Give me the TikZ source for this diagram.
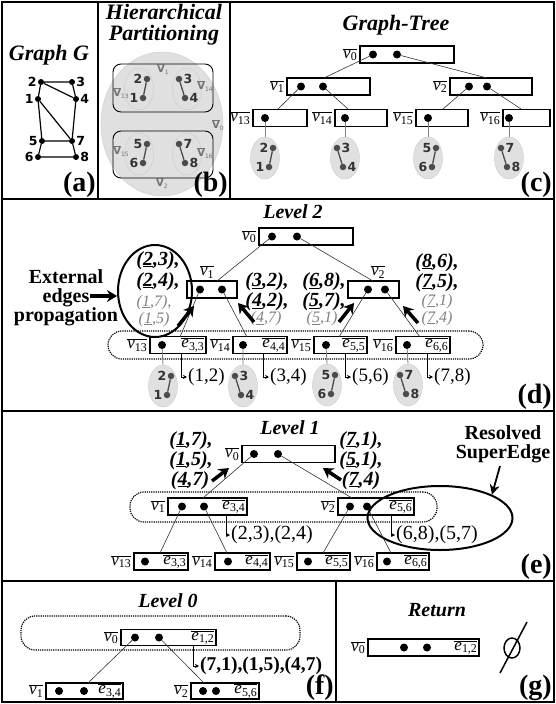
\documentclass[tikz,border=0pt]{standalone}
\usepackage{fontspec}
\setmainfont{Liberation Serif}
\newfontfamily\numfont{DejaVu Sans}
\usetikzlibrary{calc}
\usetikzlibrary{positioning}
\usetikzlibrary{shapes.geometric}
\usetikzlibrary{arrows.meta}
\definecolor{leafgray}{gray}{0.88}
\colorlet{stemgray}{black!50}
\colorlet{pairgray}{black!50}
\newcommand{\vlab}[1]{$\overline{\mbox{\itshape v\textsubscript{\upshape #1}}}$}
\newcommand{\elab}[1]{$\overline{\mbox{\itshape e\textsubscript{\upshape #1}}}$}
\newcommand{\Vlab}[1]{$\overline{\mbox{\numfont\bfseries V}}$\raisebox{-2pt}{\numfont\fontsize{6}{6}\selectfont #1}}
\newcommand{\uln}[1]{\underline{#1}}
\tikzset{
  panel/.style={line width=1.6pt},
  ttl/.style={font=\fontsize{20}{20}\selectfont\bfseries\itshape, inner sep=0pt},
  topttl/.style={ttl, font=\fontsize{22}{21}\selectfont\bfseries\itshape},
  paneltag/.style={font=\fontsize{28}{28}\selectfont\bfseries, anchor=south east, inner sep=1pt},
  vbox/.style={draw, line width=1.2pt, minimum height=17pt, inner sep=0pt},
  dot/.style={circle, fill=black, inner sep=0pt, minimum size=8pt},
  gdot/.style={circle, fill=black!70, inner sep=0pt, minimum size=6.5pt},
  leafell/.style={ellipse, fill=leafgray, draw=black!20, inner sep=0pt, minimum width=29pt, minimum height=42pt},
  num/.style={font=\numfont\bfseries\fontsize{12.5}{12.5}\selectfont, inner sep=1pt, text=black!80},
  vname/.style={font=\fontsize{17}{17}\selectfont, inner sep=1pt},
  ename/.style={font=\fontsize{17}{17}\selectfont, inner sep=2pt, anchor=east},
  vgray/.style={font=\fontsize{10}{10}\selectfont, text=black!55, inner sep=0pt},
  treeline/.style={line width=0.6pt, black!80},
  stem/.style={line width=0.8pt, stemgray},
  stadium/.style={draw, densely dotted, line width=1.2pt, rounded corners=14pt, inner sep=0pt},
  bigarrow/.style={line width=3.5pt, -{Stealth[length=10pt, width=12pt]}},
  elbow/.style={line width=0.8pt, -{Stealth[length=4pt, width=4pt]}},
  pair/.style={font=\fontsize{20}{20}\selectfont\bfseries\itshape, inner sep=0pt, text height=13pt, text depth=3pt},
  gpair/.style={font=\fontsize{16}{16}\selectfont\itshape, inner sep=0pt, text=pairgray, text height=11pt, text depth=3pt},
  pairtxt/.style={font=\fontsize{19}{19}\selectfont, inner sep=1pt, anchor=west},
  ring/.style={ellipse, draw, line width=2pt, inner sep=0pt},
  note/.style={font=\fontsize{20}{19}\selectfont\bfseries, align=center, inner sep=0pt}
}
\newcommand{\leafleft}[5]{
  \node[leafell] (#1) at (#2,#3) {};
  \node[gdot] (#1u) at ($(#1)+(8,-10)$) {};
  \node[gdot] (#1l) at ($(#1)+(4,9)$) {};
  \draw[line width=1.3pt, black!70] (#1u) -- (#1l);
  \node[num, left=0pt of #1u] {#4};
  \node[num, left=0pt of #1l] {#5};
}
\newcommand{\leafright}[5]{
  \node[leafell] (#1) at (#2,#3) {};
  \node[gdot] (#1u) at ($(#1)+(-8,-10)$) {};
  \node[gdot] (#1l) at ($(#1)+(-2,9)$) {};
  \draw[line width=1.3pt, black!70] (#1u) -- (#1l);
  \node[num, right=0pt of #1u] {#4};
  \node[num, right=0pt of #1l] {#5};
}
\begin{document}
\begin{tikzpicture}[x=1pt, y=-1pt]
  \useasboundingbox (0,0) rectangle (556,704);

  \draw[panel] (2,2) rectangle (554,702);
  \draw[panel] (98,2) -- (98,199) (230,2) -- (230,199);
  \draw[panel] (2,199) -- (554,199) (2,411) -- (554,411) (2,581) -- (554,581);
  \draw[panel] (336,581) -- (336,702);

  % (a) graph G
  \node[topttl] (ta) at (49,55) {Graph G};
  \foreach \n/\x/\y in {1/38/99, 2/41/82, 3/72/82, 4/76/99, 5/42/141, 6/38/157, 7/72/141, 8/76/157}{
    \node[dot, minimum size=6pt] (g\n) at (\x,\y) {};
  }
  \foreach \n in {1,2,5,6}{
    \node[num, text=black, left=0pt of g\n] {\n};
  }
  \foreach \n in {3,4,7,8}{
    \node[num, text=black, right=0pt of g\n] {\n};
  }
  \draw[line width=1.2pt] (g1) -- (g2) (g2) -- (g3) (g3) -- (g4) (g2) -- (g4)
    (g1) -- (g5) (g1) -- (g7) (g4) -- (g7) (g5) -- (g7) (g5) -- (g6) (g6) -- (g8) (g7) -- (g8);
  \node[paneltag] (taga) at (97,199) {(a)};

  % (b) partitioning
  \node[topttl, align=center] (tb) at (164,25) {Hierarchical\\Partitioning};
  \node[ellipse, fill=leafgray, draw=black!20, inner sep=0pt, minimum width=122pt, minimum height=144pt] (B0) at (162,124) {};
  \node[draw, line width=0.9pt, rounded corners=8pt, minimum width=100pt, minimum height=48pt] (B1) at (163,88) {};
  \node[draw, line width=0.9pt, rounded corners=8pt, minimum width=100pt, minimum height=47pt] (B2) at (163,154.5) {};
  \leafleft{b13}{139}{89}{2}{1}
  \leafright{b14}{187}{89}{3}{4}
  \leafleft{b15}{139}{154}{5}{6}
  \leafright{b16}{187}{154}{7}{8}
  \foreach \nm/\x/\y/\s in {V1/163/69/1, V13/121/93/13, V14/205/86/14, V0/218/125/0, V15/121/151/15, V16/205/153/16, V2/162/183/2}{
    \node[vgray] (\nm) at (\x,\y) {\Vlab{\s}};
  }
  \node[paneltag] (tagb) at (229,199) {(b)};

  % (c) graph-tree
  \node[topttl] (tc) at (396,25) {Graph-Tree};
  \foreach \nm/\x/\y/\w in {c0/407/54.5/94, c1/328.5/86.5/83, c2/491/86.5/82, c13/280/118/54, c14/361/118/52, c15/442/118/52, c16/526.5/118/47}{
    \node[vbox, minimum width=\w pt] (\nm) at (\x,\y) {};
  }
  \foreach \nm/\x/\y in {c0a/373/54.5, c0b/397/54.5, c1a/301/86.5, c1b/323/86.5, c2a/469/86.5, c2b/487/86.5, c13a/265/118, c14a/345/118, c15a/428/118, c16a/509/118}{
    \node[dot] (\nm) at (\x,\y) {};
  }
  \foreach \nm/\i in {c0/0, c1/1, c2/2, c13/13, c14/14, c15/15, c16/16}{
    \node[vname, left=1pt of \nm] {\vlab{\i}};
  }
  \coordinate (c1t) at (324,78);
  \coordinate (c2t) at (487,78);
  \coordinate (c13t) at (278,109);
  \coordinate (c14t) at (348,109);
  \coordinate (c15t) at (443,109);
  \coordinate (c16t) at (521,109);
  \draw[treeline] (c0a) -- (c1t) (c0b) -- (c2t) (c1a) -- (c13t) (c1b) -- (c14t) (c2a) -- (c15t) (c2b) -- (c16t);
  \leafleft{l13}{265}{158}{2}{1}
  \leafright{l14}{345}{158}{3}{4}
  \leafleft{l15}{428}{158}{5}{6}
  \leafright{l16}{509}{158}{7}{8}
  \draw[stem] (c13a) -- (l13.north) (c14a) -- (l14.north) (c15a) -- (l15.north) (c16a) -- (l16.north);
  \node[paneltag] (tagc) at (553,199) {(c)};

  % (d) level 2
  \node[ttl] (td) at (293,212) {Level 2};
  \node[stadium, minimum width=375pt, minimum height=28pt] (row2) at (295.5,345) {};
  \foreach \nm/\x/\y/\w in {d0/306/236.5/94, d1/212/289.5/50, d2/373.5/289.5/51, d13/178/345/56, d14/260/345/54, d15/340.5/345/53, d16/423/345/54}{
    \node[vbox, minimum width=\w pt, fill=white] (\nm) at (\x,\y) {};
  }
  \foreach \nm/\x/\y in {d0a/272/236.5, d0b/297/236.5, d1a/200/289.5, d1b/222/289.5, d2a/368/289.5, d2b/385/289.5, d13a/162/345, d14a/243/345, d15a/326/345, d16a/407/345}{
    \node[dot] (\nm) at (\x,\y) {};
  }
  \foreach \nm/\i in {d0/0, d13/13, d14/14, d15/15, d16/16}{
    \node[vname, left=1pt of \nm] {\vlab{\i}};
  }
  \node[vname] (d1n) at (207,272) {\vlab{1}};
  \node[vname] (d2n) at (378,272) {\vlab{2}};
  \foreach \nm/\s in {d13/{3,3}, d14/{4,4}, d15/{5,5}, d16/{6,6}}{
    \node[ename] at (\nm.east) {\elab{\s}};
  }
  \coordinate (d1t) at (217,281);
  \coordinate (d2t) at (373,281);
  \coordinate (d13t) at (180,337);
  \coordinate (d14t) at (247,337);
  \coordinate (d15t) at (339,337);
  \coordinate (d16t) at (420,337);
  \draw[treeline] (d0a) -- (d1t) (d0b) -- (d2t) (d1a) -- (d13t) (d1b) -- (d14t) (d2a) -- (d15t) (d2b) -- (d16t);
  \leafleft{m13}{163}{386}{2}{1}
  \leafright{m14}{243}{386}{3}{4}
  \leafleft{m15}{327}{385}{5}{6}
  \leafright{m16}{408}{385}{7}{8}
  \draw[stem] (d13a) -- (m13.north) (d14a) -- (m14.north) (d15a) -- (m15.north) (d16a) -- (m16.north);
  \foreach \k/\x/\t in {13/181/{(1,2)}, 14/263/{(3,4)}, 15/345/{(5,6)}, 16/427/{(7,8)}}{
    \coordinate (d\k e) at (\x,353);
    \node[pairtxt] (p\k) at (\x+6,377) {\t};
    \draw[elbow] (d\k e) |- (p\k.west);
  }
  \node[ring, minimum width=74pt, minimum height=92pt] (extring) at (155,291) {};
  \node[pair] (q23) at (158,260) {(\uln{2},3),};
  \node[pair] (q24) at (158,281) {(\uln{2},4),};
  \node[gpair] (q17) at (154,302) {(\uln{1},7),};
  \node[gpair] (q15) at (154,319) {(\uln{1},5)};
  \node[note] (ext) at (66,298) {External\\edges\\propagation};
  \coordinate (extarr) at (90,296);
  \draw[bigarrow] (extarr) -- (extring.west |- extarr);
  \node[pair] (q32) at (267,281.5) {(\uln{3},2),};
  \node[pair] (q42) at (267,301.5) {(\uln{4},2),};
  \node[gpair] (q47) at (266,318.5) {(\uln{4},7)};
  \node[pair] (q68) at (324,281.5) {(\uln{6},8),};
  \node[pair] (q57) at (324,301.5) {(\uln{5},7),};
  \node[gpair] (q51) at (322,318.5) {(\uln{5},1)};
  \node[pair] (q86) at (437,262) {(\uln{8},6),};
  \node[pair] (q75) at (437,282) {(\uln{7},5),};
  \node[gpair] (q71) at (437,301) {(\uln{7},1)};
  \node[gpair] (q74) at (437,318) {(\uln{7},4)};
  \foreach \k/\a/\b/\c/\d in {1/178/326/194/306, 2/254/322/238/303, 3/339/322/354/303, 4/418/323/403/306}{
    \coordinate (up\k s) at (\a,\b);
    \coordinate (up\k e) at (\c,\d);
    \draw[bigarrow] (up\k s) -- (up\k e);
  }
  \node[paneltag] (tagd) at (553,411) {(d)};

  % (e) level 1
  \node[ttl] (te) at (290,428) {Level 1};
  \node[stadium, minimum width=307pt, minimum height=30pt] (row1) at (283.5,507) {};
  \foreach \nm/\x/\y/\w in {e0/288.5/454/93, e1/207.5/506.5/79, e2/376/506.5/76, e13/161/561.5/54, e14/242.5/561.5/55, e15/323.5/561.5/53, e16/403/561.5/52}{
    \node[vbox, minimum width=\w pt] (\nm) at (\x,\y) {};
  }
  \foreach \nm/\x/\y in {e0a/254/454, e0b/278/454, e1a/182/506.5, e1b/204/506.5, e2a/350/506.5, e2b/367/506.5, e13a/145/561.5, e14a/228/561.5, e15a/308/561.5, e16a/387/561.5}{
    \node[dot] (\nm) at (\x,\y) {};
  }
  \foreach \nm/\i in {e0/0, e1/1, e2/2, e13/13, e14/14, e15/15, e16/16}{
    \node[vname, left=1pt of \nm] {\vlab{\i}};
  }
  \foreach \nm/\s in {e1/{3,4}, e2/{5,6}, e13/{3,3}, e14/{4,4}, e15/{5,5}, e16/{6,6}}{
    \node[ename] at (\nm.east) {\elab{\s}};
  }
  \coordinate (e1t) at (203,498);
  \coordinate (e2t) at (352,498);
  \coordinate (e13t) at (160,553);
  \coordinate (e14t) at (227,553);
  \coordinate (e15t) at (323,553);
  \coordinate (e16t) at (391,553);
  \draw[treeline] (e0a) -- (e1t) (e0b) -- (e2t) (e1a) -- (e13t) (e1b) -- (e14t) (e2a) -- (e15t) (e2b) -- (e16t);
  \coordinate (e1e) at (226,515);
  \coordinate (e2e) at (391,515);
  \node[pairtxt, font=\fontsize{20}{20}\selectfont] (r1) at (230,535) {(2,3),(2,4)};
  \node[pairtxt, font=\fontsize{20}{20}\selectfont] (r2) at (395,535) {(6,8),(5,7)};
  \draw[elbow] (e1e) |- (r1.west);
  \draw[elbow] (e2e) |- (r2.west);
  \node[pair] (s17) at (191,440) {(\uln{1},7),};
  \node[pair] (s15) at (191,460) {(\uln{1},5),};
  \node[pair] (s47) at (190,480) {(\uln{4},7)};
  \node[pair] (s71) at (361,440) {(\uln{7},1),};
  \node[pair] (s51) at (361,460) {(\uln{5},1),};
  \node[pair] (s74) at (361,480) {(\uln{7},4)};
  \coordinate (lu1s) at (212,481);
  \coordinate (lu1e) at (229,468);
  \coordinate (lu2s) at (341,480);
  \coordinate (lu2e) at (323,468);
  \draw[bigarrow] (lu1s) -- (lu1e);
  \draw[bigarrow] (lu2s) -- (lu2e);
  \node[ring, minimum width=145pt, minimum height=64pt] (superring) at (440,518) {};
  \node[note] (resolved) at (503,444) {Resolved\\SuperEdge};
  \coordinate (resarr) at (500,466);
  \draw[line width=1.8pt, -{Stealth[length=10pt, width=10pt]}] (resarr) -- (superring.north east);
  \node[paneltag] (tage) at (553,581) {(e)};

  % (f) level 0
  \node[ttl] (tf) at (168,601) {Level 0};
  \node[stadium, minimum width=279pt, minimum height=34pt] (row0) at (160.5,633) {};
  \foreach \nm/\x/\y/\w in {f0/168.5/637.5/95, f1/84.5/691/77, f2/225/691/68}{
    \node[vbox, minimum width=\w pt, minimum height=16pt] (\nm) at (\x,\y) {};
  }
  \foreach \nm/\x/\y in {f0a/135/637.5, f0b/159/637.5, f1a/59/691, f1b/84/691, f2a/203/691, f2b/216/691}{
    \node[dot] (\nm) at (\x,\y) {};
  }
  \foreach \nm/\i in {f0/0, f1/1, f2/2}{
    \node[vname, left=1pt of \nm] {\vlab{\i}};
  }
  \foreach \nm/\s in {f0/{1,2}, f1/{3,4}, f2/{5,6}}{
    \node[ename] at (\nm.east) {\elab{\s}};
  }
  \coordinate (f1t) at (88,683);
  \coordinate (f2t) at (204,683);
  \draw[treeline] (f0a) -- (f1t) (f0b) -- (f2t);
  \coordinate (f0e) at (193,646);
  \node[pairtxt, font=\fontsize{19.5}{19.5}\selectfont\bfseries] (r0) at (199,666) {(7,1),(1,5),(4,7)};
  \draw[elbow] (f0e) |- (r0.west);
  \node[paneltag] (tagf) at (335,702) {(f)};

  % (g) return
  \node[ttl] (tg) at (437,610) {Return};
  \node[vbox, minimum width=111pt] (g0) at (423.5,647.5) {};
  \node[dot] (g0a) at (404,647.5) {};
  \node[dot] (g0b) at (427,647.5) {};
  \node[vname, left=1pt of g0] {\vlab{0}};
  \node[ename] at (g0.east) {\elab{1,2}};
  \node[ellipse, draw, line width=1.5pt, inner sep=0pt, minimum width=16pt, minimum height=20pt] (empty) at (512,648) {};
  \coordinate (slash1) at (527,622);
  \coordinate (slash2) at (500,673);
  \draw[line width=1.5pt] (slash1) -- (slash2);
  \node[paneltag] (tagg) at (553,702) {(g)};
\end{tikzpicture}
\end{document}
